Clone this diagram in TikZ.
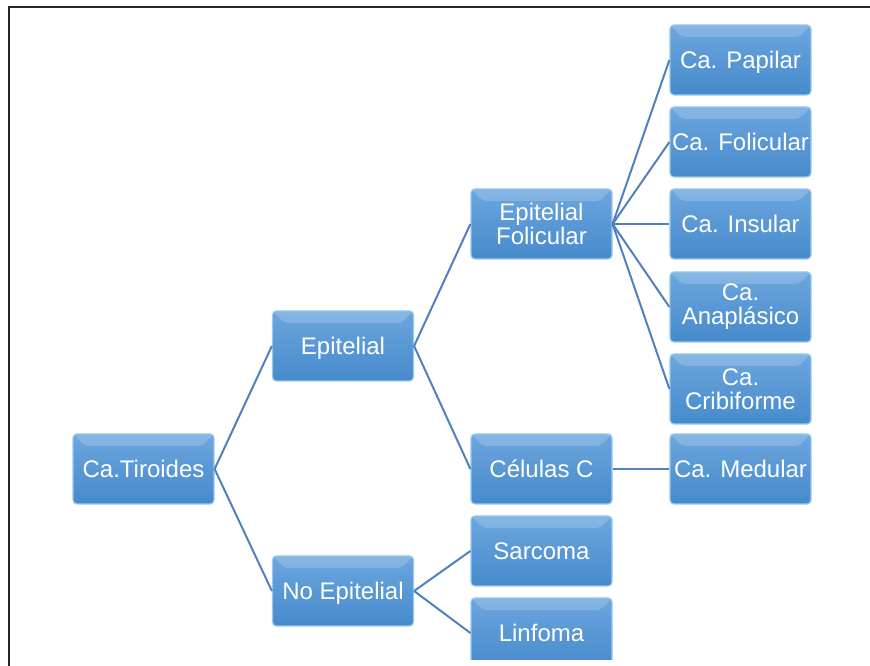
\documentclass[tikz,border=0pt]{standalone}
\usepackage{fontspec}
\setmainfont{Liberation Sans}
\begin{document}
\begin{tikzpicture}[x=1pt,y=1pt,
  box/.style={rectangle, rounded corners=4pt, minimum width=141pt, minimum height=70pt,
    inner sep=0pt, align=center, text=white,
    font=\fontsize{24}{24}\selectfont,
    top color=boxtop, bottom color=boxbot,
    draw=boxedge, line width=1.2pt,
    path picture={\fill[white, opacity=0.18]
      (path picture bounding box.north west) -- (path picture bounding box.north east)
      -- ([xshift=-12pt,yshift=-12pt]path picture bounding box.north east)
      -- ([xshift=12pt,yshift=-12pt]path picture bounding box.north west) -- cycle;}},
  one/.style={box, text height=17pt, text depth=0pt},
  link/.style={draw=linkc, line width=2pt}]
\definecolor{boxtop}{RGB}{108,166,222}
\definecolor{boxbot}{RGB}{70,138,204}
\definecolor{boxedge}{RGB}{150,200,240}
\definecolor{linkc}{RGB}{79,129,189}
\useasboundingbox (0,0) rectangle (870,666);
% frame
\draw[line width=1.5pt, black!85] (9,0) -- (9,659) -- (870,659);
% nodes (y = 666 - ypx)
\node[one] (tir) at (143.5,197) {Ca.Tiroides};
\node[one] (epi) at (343,320) {Epitelial};
\node[one] (noe) at (343,75) {No Epitelial};
\node[box] (fol) at (541.5,442) {Epitelial\\Folicular};
\node[one] (cel) at (541.5,197) {Células C};
\node[one] (sar) at (541.5,115) {Sarcoma};
\begin{scope}
\clip (0,6) rectangle (870,666);
\node[one] (lin) at (541.5,33) {Linfoma};
\end{scope}
\node[one] (pap) at (740.5,606) {Ca. Papilar};
\node[one] (cfo) at (740.5,524) {Ca. Folicular};
\node[one] (ins) at (740.5,442) {Ca. Insular};
\node[box] (ana) at (740.5,359) {Ca.\\Anaplásico};
\node[box] (cri) at (740.5,277) {Ca.\\Cribiforme};
\node[one] (med) at (740.5,197) {Ca. Medular};
% connectors
\path[link] (tir.east) -- (epi.west);
\path[link] (tir.east) -- (noe.west);
\path[link] (epi.east) -- (fol.west);
\path[link] (epi.east) -- (cel.west);
\path[link] (noe.east) -- (sar.west);
\path[link] (noe.east) -- (lin.west);
\path[link] (fol.east) -- (pap.west);
\path[link] (fol.east) -- (cfo.west);
\path[link] (fol.east) -- (ins.west);
\path[link] (fol.east) -- (ana.west);
\path[link] (fol.east) -- (cri.west);
\path[link] (cel.east) -- (med.west);
\end{tikzpicture}
\end{document}
